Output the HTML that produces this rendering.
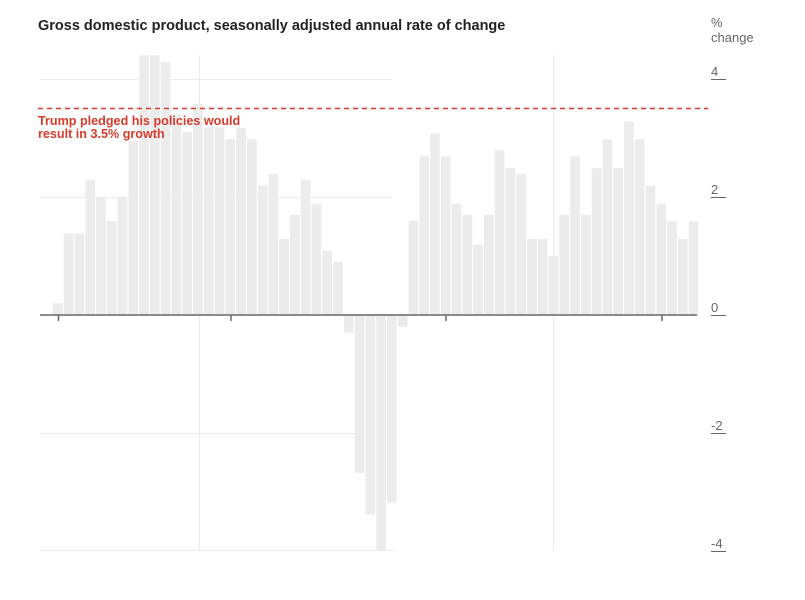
<!DOCTYPE html>
<html><head><meta charset="utf-8"><style>
html,body{margin:0;padding:0;background:#fff;width:805px;height:600px;overflow:hidden}
svg{display:block}
</style></head><body>
<svg width="805" height="600" xmlns="http://www.w3.org/2000/svg" font-family="Liberation Sans, sans-serif">
<text x="38" y="30" font-size="14.5" font-weight="bold" fill="#222">Gross domestic product, seasonally adjusted annual rate of change</text>
<text x="711" y="27" font-size="13" fill="#666">%</text>
<text x="711" y="42" font-size="13" fill="#666">change</text>
<g stroke="#ebebeb" stroke-width="1">
<line x1="40" y1="79.5" x2="392" y2="79.5"/>
<line x1="40" y1="197.5" x2="392" y2="197.5"/>
<line x1="40" y1="433.5" x2="355" y2="433.5"/>
<line x1="40" y1="550.5" x2="395" y2="550.5"/>
<line x1="199.5" y1="55" x2="199.5" y2="550"/>
<line x1="553.5" y1="55" x2="553.5" y2="550"/>
</g>
<g transform="translate(53,315) scale(10.775,-59)" fill="#ececec">
<rect x="0" y="0" width="0.9" height="0.2"/>
<rect x="1" y="0" width="0.9" height="1.38"/>
<rect x="2" y="0" width="0.9" height="1.38"/>
<rect x="3" y="0" width="0.9" height="2.29"/>
<rect x="4" y="0" width="0.9" height="2.0"/>
<rect x="5" y="0" width="0.9" height="1.59"/>
<rect x="6" y="0" width="0.9" height="2.0"/>
<rect x="7" y="0" width="0.9" height="2.95"/>
<rect x="8" y="0" width="0.9" height="4.4"/>
<rect x="9" y="0" width="0.9" height="4.4"/>
<rect x="10" y="0" width="0.9" height="4.29"/>
<rect x="11" y="0" width="0.9" height="3.4"/>
<rect x="12" y="0" width="0.9" height="3.1"/>
<rect x="13" y="0" width="0.9" height="3.58"/>
<rect x="14" y="0" width="0.9" height="3.18"/>
<rect x="15" y="0" width="0.9" height="3.18"/>
<rect x="16" y="0" width="0.9" height="2.98"/>
<rect x="17" y="0" width="0.9" height="3.17"/>
<rect x="18" y="0" width="0.9" height="2.98"/>
<rect x="19" y="0" width="0.9" height="2.19"/>
<rect x="20" y="0" width="0.9" height="2.39"/>
<rect x="21" y="0" width="0.9" height="1.29"/>
<rect x="22" y="0" width="0.9" height="1.7"/>
<rect x="23" y="0" width="0.9" height="2.29"/>
<rect x="24" y="0" width="0.9" height="1.89"/>
<rect x="25" y="0" width="0.9" height="1.09"/>
<rect x="26" y="0" width="0.9" height="0.9"/>
<rect x="27" y="-0.3" width="0.9" height="0.3"/>
<rect x="28" y="-2.68" width="0.9" height="2.68"/>
<rect x="29" y="-3.38" width="0.9" height="3.38"/>
<rect x="30" y="-4.0" width="0.9" height="4.0"/>
<rect x="31" y="-3.18" width="0.9" height="3.18"/>
<rect x="32" y="-0.2" width="0.9" height="0.2"/>
<rect x="33" y="0" width="0.9" height="1.6"/>
<rect x="34" y="0" width="0.9" height="2.69"/>
<rect x="35" y="0" width="0.9" height="3.08"/>
<rect x="36" y="0" width="0.9" height="2.69"/>
<rect x="37" y="0" width="0.9" height="1.89"/>
<rect x="38" y="0" width="0.9" height="1.7"/>
<rect x="39" y="0" width="0.9" height="1.19"/>
<rect x="40" y="0" width="0.9" height="1.7"/>
<rect x="41" y="0" width="0.9" height="2.79"/>
<rect x="42" y="0" width="0.9" height="2.49"/>
<rect x="43" y="0" width="0.9" height="2.39"/>
<rect x="44" y="0" width="0.9" height="1.29"/>
<rect x="45" y="0" width="0.9" height="1.29"/>
<rect x="46" y="0" width="0.9" height="1.0"/>
<rect x="47" y="0" width="0.9" height="1.7"/>
<rect x="48" y="0" width="0.9" height="2.69"/>
<rect x="49" y="0" width="0.9" height="1.7"/>
<rect x="50" y="0" width="0.9" height="2.49"/>
<rect x="51" y="0" width="0.9" height="2.98"/>
<rect x="52" y="0" width="0.9" height="2.49"/>
<rect x="53" y="0" width="0.9" height="3.28"/>
<rect x="54" y="0" width="0.9" height="2.98"/>
<rect x="55" y="0" width="0.9" height="2.19"/>
<rect x="56" y="0" width="0.9" height="1.89"/>
<rect x="57" y="0" width="0.9" height="1.59"/>
<rect x="58" y="0" width="0.9" height="1.29"/>
<rect x="59" y="0" width="0.9" height="1.59"/>
</g>
<g stroke="#666" stroke-width="1.5">
<line x1="40" y1="315" x2="697" y2="315"/>
<line x1="58.5" y1="315" x2="58.5" y2="321"/>
<line x1="231" y1="315" x2="231" y2="321"/>
<line x1="446" y1="315" x2="446" y2="321"/>
<line x1="662" y1="315" x2="662" y2="321"/>
</g>
<line x1="38" y1="108.5" x2="708" y2="108.5" stroke="#d63b2b" stroke-width="1.6" stroke-dasharray="5,4"/>
<text x="38" y="125" font-size="12.6" font-weight="bold" fill="#d63b2b">Trump pledged his policies would</text>
<text x="38" y="138" font-size="12.6" font-weight="bold" fill="#d63b2b">result in 3.5% growth</text>
<g font-size="13" fill="#666">
<text x="711" y="76">4</text>
<text x="711" y="194">2</text>
<text x="711" y="312">0</text>
<text x="711" y="430">-2</text>
<text x="711" y="548">-4</text>
</g>
<g stroke="#666" stroke-width="1">
<line x1="711" y1="79.5" x2="726" y2="79.5"/>
<line x1="711" y1="197.5" x2="726" y2="197.5"/>
<line x1="711" y1="315.5" x2="726" y2="315.5"/>
<line x1="711" y1="433.5" x2="726" y2="433.5"/>
<line x1="711" y1="551.5" x2="726" y2="551.5"/>
</g>
</svg>
</body></html>
